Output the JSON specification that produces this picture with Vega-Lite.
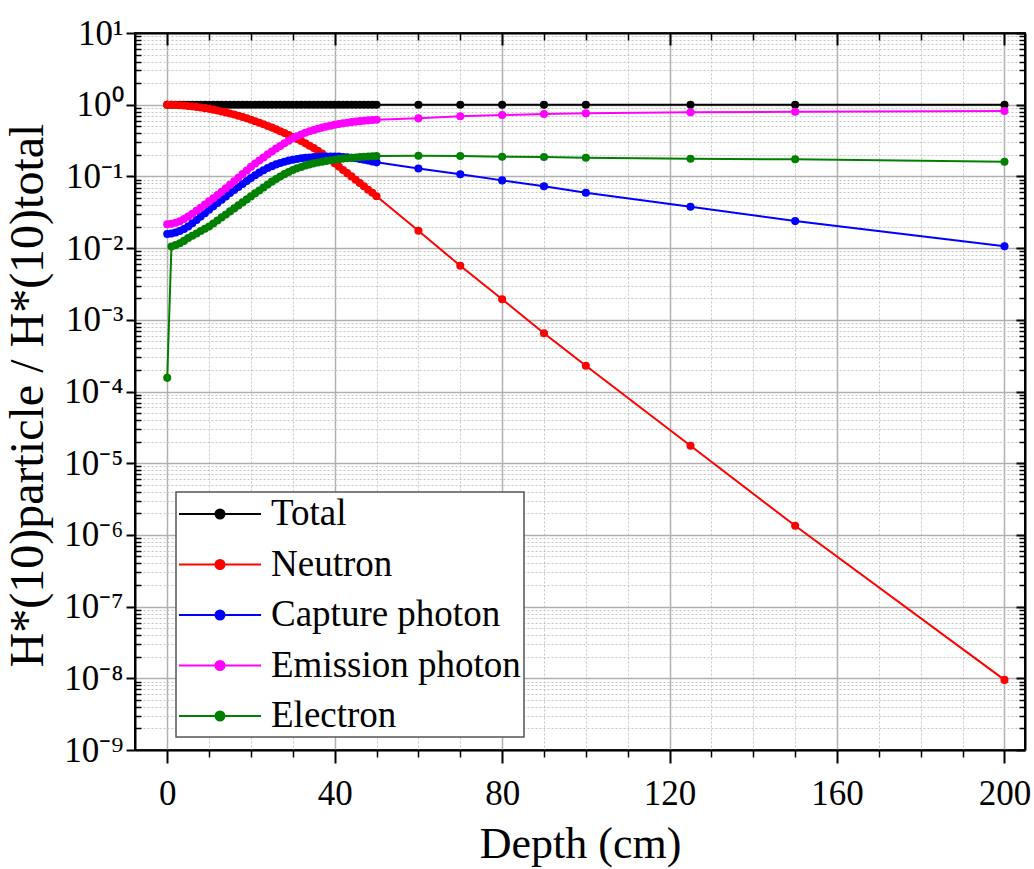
{
  "$schema": "https://vega.github.io/schema/vega-lite/v6.json",
  "autosize": {"type": "none"},
  "padding": {"left": 135, "top": 33, "right": 9, "bottom": 119},
  "width": 890,
  "height": 717,
  "background": "white",
  "config": {
    "font": "Liberation Serif",
    "view": {"stroke": "black", "strokeWidth": 2},
    "style": {"guide-label": {"font": "Liberation Serif", "fill": "black"}, "guide-title": {"font": "Liberation Serif", "fill": "black", "fontWeight": "normal"}},
    "axis": {"labelFont": "Liberation Serif", "titleFont": "Liberation Serif", "labelColor": "black", "titleColor": "black", "titleFontWeight": "normal", "domainColor": "black", "tickColor": "black"},
    "legend": {"labelFont": "Liberation Serif", "labelColor": "black"}
  },
  "data": {"values": [
    {"depth":0,"particle":"Total","ratio":1},{"depth":1,"particle":"Total","ratio":1},{"depth":2,"particle":"Total","ratio":1},{"depth":3,"particle":"Total","ratio":1},{"depth":4,"particle":"Total","ratio":1},{"depth":5,"particle":"Total","ratio":1},{"depth":6,"particle":"Total","ratio":1},{"depth":7,"particle":"Total","ratio":1},{"depth":8,"particle":"Total","ratio":1},{"depth":9,"particle":"Total","ratio":1},
    {"depth":10,"particle":"Total","ratio":1},{"depth":11,"particle":"Total","ratio":1},{"depth":12,"particle":"Total","ratio":1},{"depth":13,"particle":"Total","ratio":1},{"depth":14,"particle":"Total","ratio":1},{"depth":15,"particle":"Total","ratio":1},{"depth":16,"particle":"Total","ratio":1},{"depth":17,"particle":"Total","ratio":1},{"depth":18,"particle":"Total","ratio":1},{"depth":19,"particle":"Total","ratio":1},
    {"depth":20,"particle":"Total","ratio":1},{"depth":21,"particle":"Total","ratio":1},{"depth":22,"particle":"Total","ratio":1},{"depth":23,"particle":"Total","ratio":1},{"depth":24,"particle":"Total","ratio":1},{"depth":25,"particle":"Total","ratio":1},{"depth":26,"particle":"Total","ratio":1},{"depth":27,"particle":"Total","ratio":1},{"depth":28,"particle":"Total","ratio":1},{"depth":29,"particle":"Total","ratio":1},
    {"depth":30,"particle":"Total","ratio":1},{"depth":31,"particle":"Total","ratio":1},{"depth":32,"particle":"Total","ratio":1},{"depth":33,"particle":"Total","ratio":1},{"depth":34,"particle":"Total","ratio":1},{"depth":35,"particle":"Total","ratio":1},{"depth":36,"particle":"Total","ratio":1},{"depth":37,"particle":"Total","ratio":1},{"depth":38,"particle":"Total","ratio":1},{"depth":39,"particle":"Total","ratio":1},
    {"depth":40,"particle":"Total","ratio":1},{"depth":41,"particle":"Total","ratio":1},{"depth":42,"particle":"Total","ratio":1},{"depth":43,"particle":"Total","ratio":1},{"depth":44,"particle":"Total","ratio":1},{"depth":45,"particle":"Total","ratio":1},{"depth":46,"particle":"Total","ratio":1},{"depth":47,"particle":"Total","ratio":1},{"depth":48,"particle":"Total","ratio":1},{"depth":49,"particle":"Total","ratio":1},
    {"depth":50,"particle":"Total","ratio":1},{"depth":60,"particle":"Total","ratio":1},{"depth":70,"particle":"Total","ratio":1},{"depth":80,"particle":"Total","ratio":1},{"depth":90,"particle":"Total","ratio":1},{"depth":100,"particle":"Total","ratio":1},{"depth":125,"particle":"Total","ratio":1},{"depth":150,"particle":"Total","ratio":1},{"depth":200,"particle":"Total","ratio":1},

    {"depth":0,"particle":"Neutron","ratio":1.0},{"depth":1,"particle":"Neutron","ratio":0.998},{"depth":2,"particle":"Neutron","ratio":0.993},{"depth":3,"particle":"Neutron","ratio":0.985},{"depth":4,"particle":"Neutron","ratio":0.975},{"depth":5,"particle":"Neutron","ratio":0.962},{"depth":6,"particle":"Neutron","ratio":0.948},{"depth":7,"particle":"Neutron","ratio":0.932},{"depth":8,"particle":"Neutron","ratio":0.914},{"depth":9,"particle":"Neutron","ratio":0.895},
    {"depth":10,"particle":"Neutron","ratio":0.875},{"depth":11,"particle":"Neutron","ratio":0.853},{"depth":12,"particle":"Neutron","ratio":0.83},{"depth":13,"particle":"Neutron","ratio":0.806},{"depth":14,"particle":"Neutron","ratio":0.781},{"depth":15,"particle":"Neutron","ratio":0.755},{"depth":16,"particle":"Neutron","ratio":0.728},{"depth":17,"particle":"Neutron","ratio":0.701},{"depth":18,"particle":"Neutron","ratio":0.673},{"depth":19,"particle":"Neutron","ratio":0.645},
    {"depth":20,"particle":"Neutron","ratio":0.617},{"depth":21,"particle":"Neutron","ratio":0.589},{"depth":22,"particle":"Neutron","ratio":0.561},{"depth":23,"particle":"Neutron","ratio":0.533},{"depth":24,"particle":"Neutron","ratio":0.506},{"depth":25,"particle":"Neutron","ratio":0.479},{"depth":26,"particle":"Neutron","ratio":0.453},{"depth":27,"particle":"Neutron","ratio":0.427},{"depth":28,"particle":"Neutron","ratio":0.402},{"depth":29,"particle":"Neutron","ratio":0.378},
    {"depth":30,"particle":"Neutron","ratio":0.355},{"depth":31,"particle":"Neutron","ratio":0.333},{"depth":32,"particle":"Neutron","ratio":0.311},{"depth":33,"particle":"Neutron","ratio":0.289},{"depth":34,"particle":"Neutron","ratio":0.268},{"depth":35,"particle":"Neutron","ratio":0.248},{"depth":36,"particle":"Neutron","ratio":0.228},{"depth":37,"particle":"Neutron","ratio":0.208},{"depth":38,"particle":"Neutron","ratio":0.188},{"depth":39,"particle":"Neutron","ratio":0.169},
    {"depth":40,"particle":"Neutron","ratio":0.152},{"depth":41,"particle":"Neutron","ratio":0.137},{"depth":42,"particle":"Neutron","ratio":0.123},{"depth":43,"particle":"Neutron","ratio":0.111},{"depth":44,"particle":"Neutron","ratio":0.1},{"depth":45,"particle":"Neutron","ratio":0.09},{"depth":46,"particle":"Neutron","ratio":0.081},{"depth":47,"particle":"Neutron","ratio":0.073},{"depth":48,"particle":"Neutron","ratio":0.065},{"depth":49,"particle":"Neutron","ratio":0.059},
    {"depth":50,"particle":"Neutron","ratio":0.053},{"depth":60,"particle":"Neutron","ratio":0.0175},{"depth":70,"particle":"Neutron","ratio":0.00566},{"depth":80,"particle":"Neutron","ratio":0.00194},{"depth":90,"particle":"Neutron","ratio":0.00065},{"depth":100,"particle":"Neutron","ratio":0.000228},{"depth":125,"particle":"Neutron","ratio":0.0000175},{"depth":150,"particle":"Neutron","ratio":0.00000134},{"depth":200,"particle":"Neutron","ratio":0.0000000095},

    {"depth":0,"particle":"Capture photon","ratio":0.0157},{"depth":1,"particle":"Capture photon","ratio":0.016},{"depth":2,"particle":"Capture photon","ratio":0.0165},{"depth":3,"particle":"Capture photon","ratio":0.0173},{"depth":4,"particle":"Capture photon","ratio":0.0185},{"depth":5,"particle":"Capture photon","ratio":0.02},{"depth":6,"particle":"Capture photon","ratio":0.0222},{"depth":7,"particle":"Capture photon","ratio":0.0246},{"depth":8,"particle":"Capture photon","ratio":0.0275},{"depth":9,"particle":"Capture photon","ratio":0.0307},
    {"depth":10,"particle":"Capture photon","ratio":0.0343},{"depth":11,"particle":"Capture photon","ratio":0.0382},{"depth":12,"particle":"Capture photon","ratio":0.0425},{"depth":13,"particle":"Capture photon","ratio":0.0472},{"depth":14,"particle":"Capture photon","ratio":0.0526},{"depth":15,"particle":"Capture photon","ratio":0.0586},{"depth":16,"particle":"Capture photon","ratio":0.0647},{"depth":17,"particle":"Capture photon","ratio":0.0712},{"depth":18,"particle":"Capture photon","ratio":0.0785},{"depth":19,"particle":"Capture photon","ratio":0.0865},
    {"depth":20,"particle":"Capture photon","ratio":0.0948},{"depth":21,"particle":"Capture photon","ratio":0.104},{"depth":22,"particle":"Capture photon","ratio":0.113},{"depth":23,"particle":"Capture photon","ratio":0.122},{"depth":24,"particle":"Capture photon","ratio":0.131},{"depth":25,"particle":"Capture photon","ratio":0.139},{"depth":26,"particle":"Capture photon","ratio":0.147},{"depth":27,"particle":"Capture photon","ratio":0.154},{"depth":28,"particle":"Capture photon","ratio":0.16},{"depth":29,"particle":"Capture photon","ratio":0.166},
    {"depth":30,"particle":"Capture photon","ratio":0.171},{"depth":31,"particle":"Capture photon","ratio":0.175},{"depth":32,"particle":"Capture photon","ratio":0.179},{"depth":33,"particle":"Capture photon","ratio":0.182},{"depth":34,"particle":"Capture photon","ratio":0.184},{"depth":35,"particle":"Capture photon","ratio":0.186},{"depth":36,"particle":"Capture photon","ratio":0.188},{"depth":37,"particle":"Capture photon","ratio":0.189},{"depth":38,"particle":"Capture photon","ratio":0.19},{"depth":39,"particle":"Capture photon","ratio":0.19},
    {"depth":40,"particle":"Capture photon","ratio":0.19},{"depth":41,"particle":"Capture photon","ratio":0.189},{"depth":42,"particle":"Capture photon","ratio":0.187},{"depth":43,"particle":"Capture photon","ratio":0.185},{"depth":44,"particle":"Capture photon","ratio":0.182},{"depth":45,"particle":"Capture photon","ratio":0.179},{"depth":46,"particle":"Capture photon","ratio":0.175},{"depth":47,"particle":"Capture photon","ratio":0.171},{"depth":48,"particle":"Capture photon","ratio":0.167},{"depth":49,"particle":"Capture photon","ratio":0.162},
    {"depth":50,"particle":"Capture photon","ratio":0.157},{"depth":60,"particle":"Capture photon","ratio":0.129},{"depth":70,"particle":"Capture photon","ratio":0.107},{"depth":80,"particle":"Capture photon","ratio":0.088},{"depth":90,"particle":"Capture photon","ratio":0.073},{"depth":100,"particle":"Capture photon","ratio":0.059},{"depth":125,"particle":"Capture photon","ratio":0.0377},{"depth":150,"particle":"Capture photon","ratio":0.0238},{"depth":200,"particle":"Capture photon","ratio":0.0106},

    {"depth":0,"particle":"Emission photon","ratio":0.0215},{"depth":1,"particle":"Emission photon","ratio":0.0219},{"depth":2,"particle":"Emission photon","ratio":0.0226},{"depth":3,"particle":"Emission photon","ratio":0.0237},{"depth":4,"particle":"Emission photon","ratio":0.0254},{"depth":5,"particle":"Emission photon","ratio":0.0276},{"depth":6,"particle":"Emission photon","ratio":0.0302},{"depth":7,"particle":"Emission photon","ratio":0.0332},{"depth":8,"particle":"Emission photon","ratio":0.0366},{"depth":9,"particle":"Emission photon","ratio":0.0405},
    {"depth":10,"particle":"Emission photon","ratio":0.0448},{"depth":11,"particle":"Emission photon","ratio":0.0496},{"depth":12,"particle":"Emission photon","ratio":0.055},{"depth":13,"particle":"Emission photon","ratio":0.061},{"depth":14,"particle":"Emission photon","ratio":0.0685},{"depth":15,"particle":"Emission photon","ratio":0.0766},{"depth":16,"particle":"Emission photon","ratio":0.0855},{"depth":17,"particle":"Emission photon","ratio":0.0955},{"depth":18,"particle":"Emission photon","ratio":0.108},{"depth":19,"particle":"Emission photon","ratio":0.121},
    {"depth":20,"particle":"Emission photon","ratio":0.136},{"depth":21,"particle":"Emission photon","ratio":0.151},{"depth":22,"particle":"Emission photon","ratio":0.167},{"depth":23,"particle":"Emission photon","ratio":0.184},{"depth":24,"particle":"Emission photon","ratio":0.203},{"depth":25,"particle":"Emission photon","ratio":0.223},{"depth":26,"particle":"Emission photon","ratio":0.244},{"depth":27,"particle":"Emission photon","ratio":0.266},{"depth":28,"particle":"Emission photon","ratio":0.29},{"depth":29,"particle":"Emission photon","ratio":0.315},
    {"depth":30,"particle":"Emission photon","ratio":0.34},{"depth":31,"particle":"Emission photon","ratio":0.363},{"depth":32,"particle":"Emission photon","ratio":0.385},{"depth":33,"particle":"Emission photon","ratio":0.406},{"depth":34,"particle":"Emission photon","ratio":0.426},{"depth":35,"particle":"Emission photon","ratio":0.445},{"depth":36,"particle":"Emission photon","ratio":0.463},{"depth":37,"particle":"Emission photon","ratio":0.479},{"depth":38,"particle":"Emission photon","ratio":0.495},{"depth":39,"particle":"Emission photon","ratio":0.51},
    {"depth":40,"particle":"Emission photon","ratio":0.524},{"depth":41,"particle":"Emission photon","ratio":0.537},{"depth":42,"particle":"Emission photon","ratio":0.549},{"depth":43,"particle":"Emission photon","ratio":0.56},{"depth":44,"particle":"Emission photon","ratio":0.571},{"depth":45,"particle":"Emission photon","ratio":0.581},{"depth":46,"particle":"Emission photon","ratio":0.59},{"depth":47,"particle":"Emission photon","ratio":0.598},{"depth":48,"particle":"Emission photon","ratio":0.605},{"depth":49,"particle":"Emission photon","ratio":0.612},
    {"depth":50,"particle":"Emission photon","ratio":0.618},{"depth":60,"particle":"Emission photon","ratio":0.648},{"depth":70,"particle":"Emission photon","ratio":0.689},{"depth":80,"particle":"Emission photon","ratio":0.718},{"depth":90,"particle":"Emission photon","ratio":0.741},{"depth":100,"particle":"Emission photon","ratio":0.757},{"depth":125,"particle":"Emission photon","ratio":0.782},{"depth":150,"particle":"Emission photon","ratio":0.798},{"depth":200,"particle":"Emission photon","ratio":0.816},

    {"depth":0,"particle":"Electron","ratio":0.000155},{"depth":1,"particle":"Electron","ratio":0.0105},{"depth":2,"particle":"Electron","ratio":0.011},{"depth":3,"particle":"Electron","ratio":0.0117},{"depth":4,"particle":"Electron","ratio":0.0126},{"depth":5,"particle":"Electron","ratio":0.0138},{"depth":6,"particle":"Electron","ratio":0.0149},{"depth":7,"particle":"Electron","ratio":0.016},{"depth":8,"particle":"Electron","ratio":0.0173},{"depth":9,"particle":"Electron","ratio":0.0186},
    {"depth":10,"particle":"Electron","ratio":0.02},{"depth":11,"particle":"Electron","ratio":0.0221},{"depth":12,"particle":"Electron","ratio":0.0243},{"depth":13,"particle":"Electron","ratio":0.0268},{"depth":14,"particle":"Electron","ratio":0.0295},{"depth":15,"particle":"Electron","ratio":0.0325},{"depth":16,"particle":"Electron","ratio":0.0358},{"depth":17,"particle":"Electron","ratio":0.0394},{"depth":18,"particle":"Electron","ratio":0.0434},{"depth":19,"particle":"Electron","ratio":0.0478},
    {"depth":20,"particle":"Electron","ratio":0.0526},{"depth":21,"particle":"Electron","ratio":0.058},{"depth":22,"particle":"Electron","ratio":0.0637},{"depth":23,"particle":"Electron","ratio":0.07},{"depth":24,"particle":"Electron","ratio":0.077},{"depth":25,"particle":"Electron","ratio":0.0845},{"depth":26,"particle":"Electron","ratio":0.092},{"depth":27,"particle":"Electron","ratio":0.0995},{"depth":28,"particle":"Electron","ratio":0.1075},{"depth":29,"particle":"Electron","ratio":0.1155},
    {"depth":30,"particle":"Electron","ratio":0.123},{"depth":31,"particle":"Electron","ratio":0.1295},{"depth":32,"particle":"Electron","ratio":0.1355},{"depth":33,"particle":"Electron","ratio":0.1415},{"depth":34,"particle":"Electron","ratio":0.147},{"depth":35,"particle":"Electron","ratio":0.152},{"depth":36,"particle":"Electron","ratio":0.1565},{"depth":37,"particle":"Electron","ratio":0.1605},{"depth":38,"particle":"Electron","ratio":0.1645},{"depth":39,"particle":"Electron","ratio":0.168},
    {"depth":40,"particle":"Electron","ratio":0.171},{"depth":41,"particle":"Electron","ratio":0.174},{"depth":42,"particle":"Electron","ratio":0.177},{"depth":43,"particle":"Electron","ratio":0.1795},{"depth":44,"particle":"Electron","ratio":0.182},{"depth":45,"particle":"Electron","ratio":0.184},{"depth":46,"particle":"Electron","ratio":0.186},{"depth":47,"particle":"Electron","ratio":0.1877},{"depth":48,"particle":"Electron","ratio":0.1893},{"depth":49,"particle":"Electron","ratio":0.1907},
    {"depth":50,"particle":"Electron","ratio":0.192},{"depth":60,"particle":"Electron","ratio":0.194},{"depth":70,"particle":"Electron","ratio":0.193},{"depth":80,"particle":"Electron","ratio":0.188},{"depth":90,"particle":"Electron","ratio":0.186},{"depth":100,"particle":"Electron","ratio":0.182},{"depth":125,"particle":"Electron","ratio":0.176},{"depth":150,"particle":"Electron","ratio":0.173},{"depth":200,"particle":"Electron","ratio":0.16}
  ]},
  "resolve": {"axis": {"x": "independent", "y": "independent"}},
  "layer": [
    {
      "mark": {"type": "point", "opacity": 0},
      "encoding": {
        "x": {"field": "depth", "type": "quantitative", "scale": {"domain": [-7.7, 204.9], "nice": false, "zero": false},
          "axis": {"orient": "bottom", "values": [10,20,30,50,60,70,90,100,110,130,140,150,170,180,190], "labels": false, "domain": false, "title": null, "grid": true, "gridColor": "#c4c4c4", "gridWidth": 1, "gridDash": [2,2], "tickSize": 7, "tickWidth": 1.5}},
        "y": {"field": "ratio", "type": "quantitative", "scale": {"type": "log", "domain": [1e-9, 10], "nice": false},
          "axis": {"orient": "left", "values": [2e-9,3e-9,4e-9,5e-9,6e-9,7e-9,8e-9,9e-9,2e-8,3e-8,4e-8,5e-8,6e-8,7e-8,8e-8,9e-8,2e-7,3e-7,4e-7,5e-7,6e-7,7e-7,8e-7,9e-7,2e-6,3e-6,4e-6,5e-6,6e-6,7e-6,8e-6,9e-6,2e-5,3e-5,4e-5,5e-5,6e-5,7e-5,8e-5,9e-5,2e-4,3e-4,4e-4,5e-4,6e-4,7e-4,8e-4,9e-4,2e-3,3e-3,4e-3,5e-3,6e-3,7e-3,8e-3,9e-3,2e-2,3e-2,4e-2,5e-2,6e-2,7e-2,8e-2,9e-2,0.2,0.3,0.4,0.5,0.6,0.7,0.8,0.9,2,3,4,5,6,7,8,9], "labels": false, "domain": false, "title": null, "grid": true, "gridColor": "#c4c4c4", "gridWidth": 1, "gridDash": [2,2], "tickSize": -6, "tickWidth": 1.5}}
      }
    },
    {
      "mark": {"type": "point", "opacity": 0},
      "encoding": {
        "x": {"field": "depth", "type": "quantitative", "scale": {"domain": [-7.7, 204.9], "nice": false, "zero": false},
          "axis": {"orient": "top", "values": [0,40,80,120,160,200], "labels": false, "domain": true, "domainWidth": 2, "title": null, "grid": false, "tickSize": -12, "tickWidth": 2}},
        "y": {"field": "ratio", "type": "quantitative", "scale": {"type": "log", "domain": [1e-9, 10], "nice": false},
          "axis": {"orient": "right", "values": [1e-9,1e-8,1e-7,1e-6,1e-5,1e-4,1e-3,1e-2,0.1,1,10], "labels": false, "domain": true, "domainWidth": 2, "title": null, "grid": false, "tickSize": -9, "tickWidth": 2}}
      }
    },
    {
      "mark": {"type": "point", "opacity": 0},
      "encoding": {
        "x": {"field": "depth", "type": "quantitative", "scale": {"domain": [-7.7, 204.9], "nice": false, "zero": false},
          "axis": {"orient": "top", "values": [10,20,30,50,60,70,90,100,110,130,140,150,170,180,190], "labels": false, "domain": false, "title": null, "grid": false, "tickSize": -7, "tickWidth": 1.5}},
        "y": {"field": "ratio", "type": "quantitative", "scale": {"type": "log", "domain": [1e-9, 10], "nice": false},
          "axis": {"orient": "right", "values": [2e-9,3e-9,4e-9,5e-9,6e-9,7e-9,8e-9,9e-9,2e-8,3e-8,4e-8,5e-8,6e-8,7e-8,8e-8,9e-8,2e-7,3e-7,4e-7,5e-7,6e-7,7e-7,8e-7,9e-7,2e-6,3e-6,4e-6,5e-6,6e-6,7e-6,8e-6,9e-6,2e-5,3e-5,4e-5,5e-5,6e-5,7e-5,8e-5,9e-5,2e-4,3e-4,4e-4,5e-4,6e-4,7e-4,8e-4,9e-4,2e-3,3e-3,4e-3,5e-3,6e-3,7e-3,8e-3,9e-3,2e-2,3e-2,4e-2,5e-2,6e-2,7e-2,8e-2,9e-2,0.2,0.3,0.4,0.5,0.6,0.7,0.8,0.9,2,3,4,5,6,7,8,9], "labels": false, "domain": false, "title": null, "grid": false, "tickSize": -6, "tickWidth": 1.5}}
      }
    },
    {
      "mark": {"type": "line", "strokeWidth": 2, "point": {"filled": true, "size": 65}},
      "encoding": {
        "x": {"field": "depth", "type": "quantitative", "scale": {"domain": [-7.7, 204.9], "nice": false, "zero": false},
          "axis": {"orient": "bottom", "values": [0,40,80,120,160,200], "grid": true, "gridColor": "#b0b0b0", "gridWidth": 1.5, "domain": true, "domainWidth": 2, "tickSize": 13, "tickWidth": 2, "labelFont": "Liberation Serif", "labelFontSize": 35, "labelPadding": 13, "labelFlush": false, "labelOverlap": false, "title": "Depth (cm)", "titleFont": "Liberation Serif", "titleFontSize": 44, "titleY": 107, "titleBaseline": "alphabetic"}},
        "y": {"field": "ratio", "type": "quantitative", "scale": {"type": "log", "domain": [1e-9, 10], "nice": false},
          "axis": {"orient": "left", "values": [1e-9,1e-8,1e-7,1e-6,1e-5,1e-4,1e-3,1e-2,0.1,1,10], "grid": true, "gridColor": "#b0b0b0", "gridWidth": 1.5, "domain": true, "domainWidth": 2, "tickSize": 9, "tickWidth": 2, "labelFont": "Liberation Serif", "labelFontSize": 35, "labelPadding": 3, "labelFlush": false, "labelOverlap": false,
            "labelExpr": "'10' + replace(replace(replace(replace(replace(replace(replace(replace(replace(replace(replace(toString(round(log(datum.value)/LN10)),'-','⁻'),'0','⁰'),'1','¹'),'2','²'),'3','³'),'4','⁴'),'5','⁵'),'6','⁶'),'7','⁷'),'8','⁸'),'9','⁹')",
            "title": "H*(10)particle / H*(10)total", "titleFont": "Liberation Serif", "titleFontSize": 48, "titleX": -93, "titleY": 362, "titleBaseline": "alphabetic"}},
        "color": {"field": "particle", "type": "nominal",
          "scale": {"domain": ["Total", "Neutron", "Capture photon", "Emission photon", "Electron"], "range": ["#000000", "#ff0000", "#0000ff", "#ff00ff", "#008000"]},
          "legend": {"orient": "none", "legendX": 41, "legendY": 459, "title": null, "direction": "vertical", "padding": 3, "strokeColor": "#555555", "fillColor": "white", "labelFont": "Liberation Serif", "labelFontSize": 37, "labelOffset": 32, "symbolOffset": 22, "symbolSize": 1296, "symbolStrokeWidth": 2, "rowPadding": 13.5, "labelLimit": 400,
            "symbolType": "M-2.28,0L2.28,0M0.25,0A0.25,0.25,0,1,1,-0.25,0A0.25,0.25,0,1,1,0.25,0Z",
            "encode": {"legend": {"update": {"strokeWidth": {"value": 1.5}}}, "symbols": {"update": {"fill": {"scale": "color", "field": "value"}, "stroke": {"scale": "color", "field": "value"}, "opacity": {"value": 1}}}}}}
      }
    }
  ]
}
